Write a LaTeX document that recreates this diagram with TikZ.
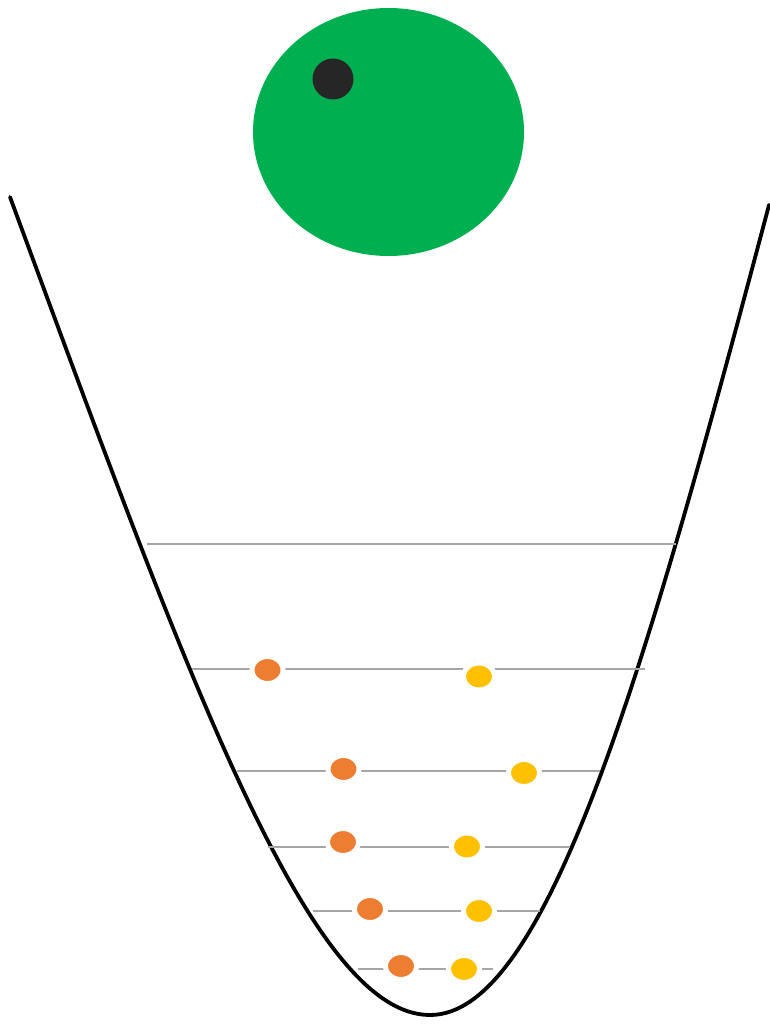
\documentclass[tikz,border=0pt]{standalone}
\usetikzlibrary{shapes.geometric}
\definecolor{ballgreen}{HTML}{00B050}
\definecolor{darkdot}{HTML}{262626}
\definecolor{orangedot}{HTML}{ED7D31}
\definecolor{yellowdot}{HTML}{FFC000}
\definecolor{levelgray}{HTML}{A6A6A6}
\tikzset{
  level/.style={draw=levelgray, line width=2.8pt},
  well/.style={draw=black, line width=3.8pt, line cap=round},
  dotbase/.style={ellipse, draw=white, line width=5pt, inner sep=0pt, minimum width=31pt, minimum height=27pt},
  odot/.style={dotbase, fill=orangedot},
  ydot/.style={dotbase, fill=yellowdot}
}
\begin{document}
\begin{tikzpicture}[x=1pt,y=-1pt]
\useasboundingbox (0,0) rectangle (769,1024);
% ball
\fill[ballgreen] (388.5,132) ellipse [x radius=135.5, y radius=124];
\fill[darkdot] (333,79) circle [radius=20.5];
% well
\draw[well] (10,197) .. controls (190,685) and (310,1015) .. (430,1015)
  .. controls (545,1015) and (642,685) .. (769,205);
% levels
\draw[level] (147,544) -- (676,544);
\draw[level] (192,669) -- (645,669);
\draw[level] (237,771) -- (600,771);
\draw[level] (268,847) -- (570,847);
\draw[level] (313,911) -- (540,911);
\draw[level] (358,969) -- (493,969);
% particles
\node[odot] (o1) at (267.5,670) {};
\node[ydot] (y1) at (479,676.5) {};
\node[odot] (o2) at (343.5,769) {};
\node[ydot] (y2) at (524,773) {};
\node[odot] (o3) at (343,842) {};
\node[ydot] (y3) at (467,846.5) {};
\node[odot] (o4) at (370,909) {};
\node[ydot] (y4) at (479,911) {};
\node[odot] (o5) at (401,966) {};
\node[ydot] (y5) at (464,969) {};
\end{tikzpicture}
\end{document}
